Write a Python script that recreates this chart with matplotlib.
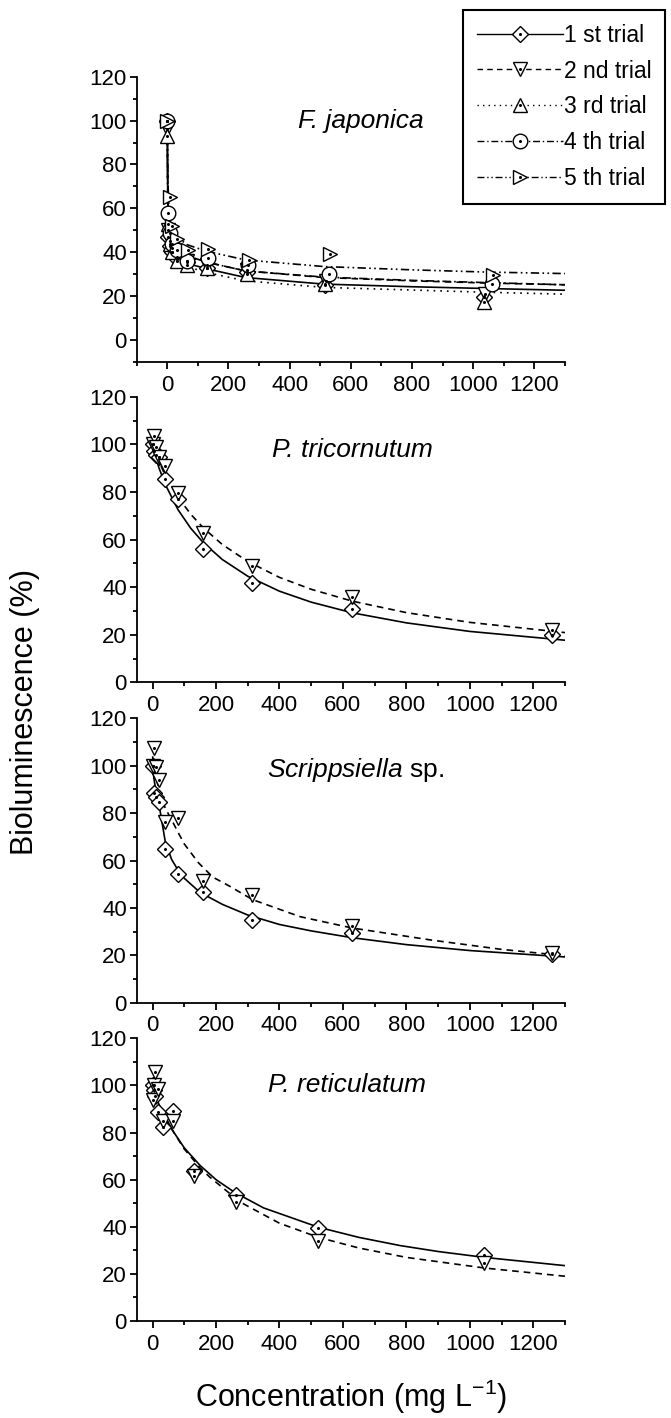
import matplotlib
matplotlib.use('Agg')
import matplotlib.pyplot as plt
from matplotlib.ticker import MultipleLocator
from matplotlib.lines import Line2D
from matplotlib.legend_handler import HandlerTuple

plt.rcParams['font.family'] = ['Liberation Sans', 'DejaVu Sans']
plt.rcParams['mathtext.fontset'] = 'custom'
plt.rcParams['mathtext.rm'] = 'Liberation Sans'
plt.rcParams['mathtext.it'] = 'Liberation Sans:italic'

# ---- F. japonica, five trials (points) ----
fj_x1 = [0, 4, 8, 16, 32, 65, 129, 259, 517, 1035]
fj_y1 = [100, 47, 43, 40, 37, 35.5, 33, 31, 25, 19.5]
fj_x2 = [0, 4, 8, 16, 32, 65, 130, 260, 520, 1040]
fj_y2 = [96, 50, 45, 42, 38, 36, 34, 32, 27, 21]
fj_x3 = [0, 4, 8, 16, 32, 65, 129, 259, 517, 1035]
fj_y3 = [93, 53, 44, 40, 36, 34, 33, 30.3, 25.5, 17.4]
fj_x4 = [0, 4, 8, 16, 32, 66, 132, 265, 530, 1060]
fj_y4 = [100, 58, 49, 44, 41, 36, 37.6, 34, 30.3, 25.5]
fj_x5 = [0, 8, 17, 33, 67, 133, 266, 533, 1066]
fj_y5 = [100, 65, 52, 46.2, 40.9, 41.5, 36.7, 39.4, 29.5]
# fitted curves
fj_cx = [0, 1, 2, 4, 8, 16, 32, 64, 128, 256, 512, 800, 1040, 1300]
fj_c1 = [100, 75, 62, 52, 45, 41, 38, 35, 32.5, 28.5, 25.5, 24.3, 23.5, 22.7]
fj_c2 = [97, 78, 65, 55, 48, 44, 41, 38, 35.5, 31.5, 28.5, 27, 26, 25.2]
fj_c3 = [93, 70, 58, 49, 43, 39.5, 36.5, 33.5, 30.8, 27, 24, 22.8, 21.8, 20.9]
fj_c4 = [100, 78, 66, 56, 49, 45, 41.5, 38.5, 35.5, 31.5, 28.7, 27.2, 26.2, 25.2]
fj_c5 = [100, 85, 74, 64, 57, 51, 47, 43.5, 40.5, 36.5, 33.5, 32, 31, 30.3]

# ---- P. tricornutum ----
pt_x = [0, 4.9, 9.8, 19.7, 39.4, 78.8, 157.5, 315, 630, 1260]
pt_y1 = [100, 97, 95.5, 94.5, 85.4, 77, 56, 41.6, 30.7, 20]
pt_y2 = [100, 103.5, 99, 94.8, 90.9, 79.4, 62.9, 48.9, 36, 22]
pt_cx = [0, 10, 20, 40, 80, 120, 160, 220, 300, 400, 500, 630, 800, 1000, 1300]
pt_c1 = [100, 94.5, 90.2, 83.2, 72.6, 64.8, 58.7, 51.6, 44.6, 38.3, 33.7, 29.2, 25.0, 21.4, 17.7]
pt_c2 = [100, 96.1, 92.8, 87.0, 77.9, 70.7, 64.9, 57.9, 50.8, 44.1, 39.1, 34.1, 29.3, 25.2, 20.9]

# ---- Scrippsiella sp. ----
sc_x = [0, 4.9, 9.8, 19.7, 39.4, 78.8, 157.5, 315, 630, 1260]
sc_y1 = [100, 88.4, 87, 84.5, 65, 54.2, 46.8, 34.9, 29.3, 20.5]
sc_y2 = [100, 107.7, 99.6, 94, 76.4, 77.8, 51.2, 45.6, 32.3, 21]
sc_cx1 = [0, 5, 10, 20, 30, 40, 60, 80, 100, 150, 220, 300, 400, 500, 630, 800, 1000, 1300]
sc_c1 = [100, 94, 90, 84, 76, 68, 60.5, 56, 52.5, 46.5, 41.5, 37, 33, 30.3, 27.4, 24.5, 22, 19.3]
sc_cx2 = [0, 10, 20, 40, 55, 80, 100, 145, 190, 245, 315, 465, 630, 880, 1100, 1300]
sc_c2 = [104, 96, 90, 82, 78.5, 72, 67, 59, 53, 49, 43.5, 36.3, 31.5, 26.4, 22.5, 19.8]

# ---- P. reticulatum ----
pr_x = [0, 4.1, 8.2, 16.3, 32.7, 65.4, 131, 262, 523, 1046]
pr_y1 = [100, 98, 95.5, 88.7, 82.4, 89.1, 63.5, 53.4, 39.4, 28.1]
pr_y2 = [94, 100, 105.5, 98.5, 85, 85, 61.4, 50.6, 33.8, 24.6]
pr_cx1 = [0, 10, 20, 40, 65, 100, 150, 200, 260, 350, 523, 650, 781, 900, 1046, 1300]
pr_c1 = [100, 95.5, 92, 86.5, 80.5, 73.5, 66, 60, 54.5, 48, 39.8, 35.5, 32, 29.5, 27, 23.5]
pr_cx2 = [0, 10, 20, 40, 65, 100, 150, 181, 276, 400, 523, 650, 800, 1046, 1300]
pr_c2 = [100, 95.5, 92, 86.5, 80.5, 73, 65, 61, 50.5, 41.5, 35.5, 31, 27, 22.5, 19]

labels = ['1 st trial', '2 nd trial', '3 rd trial', '4 th trial', '5 th trial']
markers = ['D', 'v', '^', 'o', '>']
msizes = [8, 10.5, 10.5, 10.5, 10.5]
styles = ['-', (0, (4, 3)), (0, (1, 3)), (0, (5, 2, 1, 2)), (0, (5, 2, 1, 2, 1, 2))]

fig = plt.figure(figsize=(6.71, 14.18), dpi=100)
left, width = 0.2037, 0.6383
tops = [0.9459, 0.7202, 0.4934, 0.2678]
bottoms = [0.7447, 0.5188, 0.2929, 0.0684]
axes = [fig.add_axes([left, b, width, t - b]) for t, b in zip(tops, bottoms)]


def points(ax, x, y, i):
    ax.plot(x, y, ls='none', marker=markers[i], ms=msizes[i], mfc='white',
            mec='black', mew=1.0, zorder=3)
    ax.plot(x, y, ls='none', marker='o', ms=1.2, color='black', zorder=4)


def curve(ax, x, y, i):
    ax.plot(x, y, color='black', ls=styles[i], lw=1.2, zorder=2)


def style(ax, xmin, ymin):
    ax.set_xlim(xmin, 1300)
    ax.set_ylim(ymin, 120)
    ax.spines[['top', 'right']].set_visible(False)
    ax.spines['left'].set_linewidth(1.3)
    ax.spines['bottom'].set_linewidth(1.3)
    ax.xaxis.set_major_locator(MultipleLocator(200))
    ax.xaxis.set_minor_locator(MultipleLocator(100))
    ax.yaxis.set_major_locator(MultipleLocator(20))
    ax.yaxis.set_minor_locator(MultipleLocator(10))
    ax.tick_params(which='major', length=5, width=1.3, labelsize=16, pad=2)
    ax.tick_params(axis='x', which='major', pad=4)
    ax.tick_params(which='minor', length=3, width=1.3)


# panel 1
ax = axes[0]
fj_px = [fj_x1, fj_x2, fj_x3, fj_x4, fj_x5]
fj_py = [fj_y1, fj_y2, fj_y3, fj_y4, fj_y5]
fj_cv = [fj_c1, fj_c2, fj_c3, fj_c4, fj_c5]
for i in range(5):
    curve(ax, fj_cx, fj_cv[i], i)
for i in range(5):
    points(ax, fj_px[i], fj_py[i], i)
style(ax, -100, -10)
ax.text(632, 100, 'F. japonica', style='italic', fontsize=19, ha='center', va='center')

# panel 2
ax = axes[1]
curve(ax, pt_cx, pt_c1, 0)
curve(ax, pt_cx, pt_c2, 1)
points(ax, pt_x, pt_y1, 0)
points(ax, pt_x, pt_y2, 1)
style(ax, -50, 0)
ax.text(629, 97.6, 'P. tricornutum', style='italic', fontsize=19, ha='center', va='center')

# panel 3
ax = axes[2]
curve(ax, sc_cx1, sc_c1, 0)
curve(ax, sc_cx2, sc_c2, 1)
points(ax, sc_x, sc_y1, 0)
points(ax, sc_x, sc_y2, 1)
style(ax, -50, 0)
ax.text(639, 98.2, r'$\mathit{Scrippsiella}$ sp.', fontsize=19, ha='center', va='center')

# panel 4
ax = axes[3]
curve(ax, pr_cx1, pr_c1, 0)
curve(ax, pr_cx2, pr_c2, 1)
points(ax, pr_x, pr_y1, 0)
points(ax, pr_x, pr_y2, 1)
style(ax, -50, 0)
ax.text(612, 100, 'P. reticulatum', style='italic', fontsize=19, ha='center', va='center')

# legend
handles = []
for i in range(5):
    h1 = Line2D([], [], color='black', ls=styles[i], lw=1.0, marker=markers[i],
                ms=msizes[i], mfc='white', mec='black', mew=1.0)
    h2 = Line2D([], [], ls='none', marker='o', ms=1.2, color='black')
    handles.append((h1, h2))
leg = fig.legend(handles, labels, loc='upper left', bbox_to_anchor=(0.69, 0.993),
                 handler_map={tuple: HandlerTuple(ndivide=1)}, fontsize=16.5,
                 handlelength=3.75, handletextpad=0.05, numpoints=1,
                 labelspacing=0.56, borderpad=0.6, borderaxespad=0,
                 fancybox=False, framealpha=1)
leg.get_frame().set_edgecolor('black')
leg.get_frame().set_linewidth(1.5)

fig.text(25 / 671, 1 - 712 / 1418, 'Bioluminescence (%)', rotation=90,
         fontsize=22, ha='center', va='center')
fig.text(351 / 671, 1 - 1397 / 1418, r'Concentration (mg L$^{-1}$)',
         fontsize=22, ha='center', va='center')

plt.savefig('out.png', dpi=100)
